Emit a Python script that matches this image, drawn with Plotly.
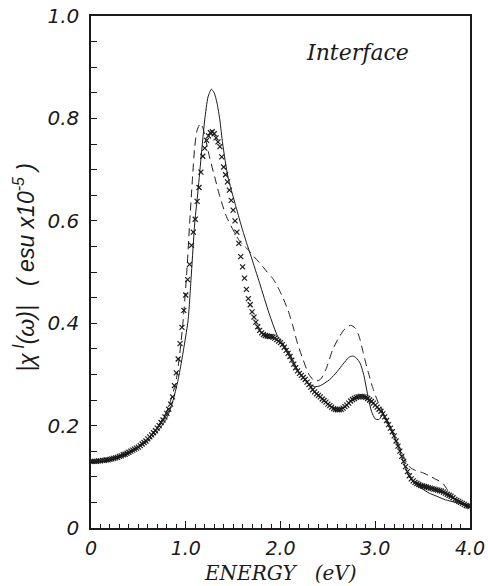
import numpy as np
import plotly.graph_objects as go

# ---- data ----
# crosses (x markers), sampled every 0.02 eV
cross_x = [round(0.02 * i, 2) for i in range(201)]
cross_y = [
    0.130, 0.130, 0.130, 0.130, 0.131, 0.131, 0.132, 0.132, 0.133, 0.133,  # 0.00-0.18
    0.134, 0.135, 0.136, 0.137, 0.138, 0.140, 0.141, 0.143, 0.144, 0.146,  # 0.20-0.38
    0.148, 0.150, 0.152, 0.154, 0.156, 0.158, 0.161, 0.164, 0.167, 0.170,  # 0.40-0.58
    0.174, 0.178, 0.182, 0.186, 0.190, 0.195, 0.200, 0.206, 0.211, 0.217,  # 0.60-0.78
    0.224, 0.232, 0.242, 0.256, 0.278, 0.303, 0.330, 0.360, 0.392, 0.425,  # 0.80-0.98
    0.455, 0.485, 0.515, 0.552, 0.578, 0.603, 0.638, 0.665, 0.695, 0.726,  # 1.00-1.18
    0.742, 0.757, 0.766, 0.772, 0.774, 0.770, 0.762, 0.754, 0.745, 0.725,  # 1.20-1.38
    0.705, 0.690, 0.676, 0.660, 0.640, 0.621, 0.600, 0.578, 0.556, 0.530,  # 1.40-1.58
    0.510, 0.488, 0.466, 0.448, 0.436, 0.422, 0.412, 0.402, 0.393, 0.386,  # 1.60-1.78
    0.381, 0.378, 0.376, 0.375, 0.374, 0.374, 0.373, 0.371, 0.368, 0.365,  # 1.80-1.98
    0.362, 0.358, 0.353, 0.347, 0.341, 0.335, 0.328, 0.320, 0.313, 0.307,  # 2.00-2.18
    0.302, 0.298, 0.294, 0.290, 0.285, 0.280, 0.275, 0.270, 0.266, 0.262,  # 2.20-2.38
    0.259, 0.256, 0.252, 0.249, 0.246, 0.242, 0.239, 0.236, 0.233, 0.232,  # 2.40-2.58
    0.231, 0.231, 0.232, 0.234, 0.237, 0.240, 0.244, 0.248, 0.251, 0.253,  # 2.60-2.78
    0.255, 0.256, 0.257, 0.257, 0.256, 0.255, 0.253, 0.250, 0.247, 0.244,  # 2.80-2.98
    0.240, 0.236, 0.232, 0.228, 0.223, 0.217, 0.210, 0.202, 0.195, 0.188,  # 3.00-3.18
    0.180, 0.170, 0.160, 0.150, 0.140, 0.130, 0.120, 0.110, 0.102, 0.096,  # 3.20-3.38
    0.092, 0.089, 0.087, 0.085, 0.083, 0.082, 0.081, 0.080, 0.079, 0.078,  # 3.40-3.58
    0.077, 0.076, 0.075, 0.074, 0.073, 0.072, 0.070, 0.068, 0.066, 0.064,  # 3.60-3.78
    0.062, 0.059, 0.056, 0.054, 0.052, 0.050, 0.048, 0.046, 0.044, 0.043,  # 3.80-3.98
    0.042,                                                                 # 4.00
]

# solid curve
solid_x = [0.0, 0.2, 0.4, 0.6, 0.7, 0.8, 0.86, 0.92, 0.96, 1.0, 1.025, 1.06, 1.095,
           1.13, 1.165, 1.2, 1.235, 1.27, 1.3, 1.33, 1.36, 1.39, 1.445, 1.52, 1.59,
           1.64, 1.69, 1.78, 1.88, 1.97, 2.02, 2.09, 2.18, 2.28, 2.36, 2.42, 2.52,
           2.6, 2.66, 2.72, 2.76, 2.8, 2.84, 2.88, 2.92, 2.96, 3.0, 3.04, 3.08,
           3.12, 3.18, 3.24, 3.3, 3.36, 3.42, 3.5, 3.57, 3.65, 3.74, 3.85, 3.97, 4.0]
solid_y = [0.128, 0.132, 0.145, 0.170, 0.188, 0.215, 0.245, 0.290, 0.330, 0.375, 0.406,
           0.498, 0.596, 0.660, 0.730, 0.797, 0.842, 0.857, 0.850, 0.830, 0.797, 0.750,
           0.686, 0.634, 0.588, 0.558, 0.530, 0.478, 0.419, 0.374, 0.361, 0.343, 0.309,
           0.285, 0.276, 0.278, 0.290, 0.306, 0.320, 0.333, 0.336, 0.332, 0.322, 0.298,
           0.260, 0.228, 0.213, 0.212, 0.221, 0.210, 0.188, 0.160, 0.128, 0.100, 0.086,
           0.076, 0.068, 0.062, 0.055, 0.050, 0.043, 0.042]

# dashed curve
dash_x = [0.0, 0.2, 0.4, 0.6, 0.7, 0.8, 0.86, 0.9, 0.93, 0.97, 1.01, 1.04, 1.07, 1.095,
          1.12, 1.155, 1.18, 1.2, 1.25, 1.305, 1.36, 1.43, 1.5, 1.57, 1.65, 1.72, 1.78,
          1.85, 1.92, 1.97, 2.02, 2.08, 2.13, 2.18, 2.24, 2.3, 2.36, 2.42, 2.48, 2.55,
          2.61, 2.67, 2.74, 2.79, 2.83, 2.87, 2.9, 2.94, 2.97, 3.02, 3.06, 3.1, 3.16,
          3.22, 3.28, 3.33, 3.37, 3.43, 3.5, 3.57, 3.64, 3.71, 3.76, 3.81, 3.87, 3.95, 4.0]
dash_y = [0.130, 0.134, 0.148, 0.175, 0.197, 0.228, 0.260, 0.290, 0.330, 0.400, 0.497,
          0.592, 0.680, 0.745, 0.777, 0.790, 0.782, 0.768, 0.725, 0.686, 0.647, 0.608,
          0.582, 0.560, 0.545, 0.530, 0.518, 0.502, 0.487, 0.471, 0.452, 0.425, 0.395,
          0.360, 0.328, 0.300, 0.287, 0.290, 0.310, 0.348, 0.370, 0.387, 0.396, 0.390,
          0.374, 0.345, 0.322, 0.295, 0.276, 0.250, 0.235, 0.218, 0.196, 0.172, 0.148,
          0.128, 0.118, 0.112, 0.108, 0.102, 0.095, 0.088, 0.075, 0.062, 0.053, 0.046,
          0.042]

x_tickvals = [0, 1, 2, 3, 4]
x_ticktext = ["0", "1.0", "2.0", "3.0", "4.0"]
y_tickvals = [0, 0.2, 0.4, 0.6, 0.8, 1.0]
y_ticktext = ["0", "0.2", "0.4", "0.6", "0.8", "1.0"]

INK = "#1a1a1a"

fig = go.Figure()
fig.add_trace(go.Scatter(x=solid_x, y=solid_y, mode="lines",
                         line=dict(color=INK, width=1, shape="spline", smoothing=0.6),
                         showlegend=False, hoverinfo="skip"))
fig.add_trace(go.Scatter(x=dash_x, y=dash_y, mode="lines",
                         line=dict(color=INK, width=1, dash="8px,5px", shape="spline", smoothing=0.6),
                         showlegend=False, hoverinfo="skip"))
fig.add_trace(go.Scatter(x=cross_x, y=cross_y, mode="markers",
                         marker=dict(symbol="x-thin", size=5, line=dict(width=1.2, color=INK)),
                         showlegend=False, hoverinfo="skip"))

tickfont_sans = dict(family="DejaVu Sans", size=20, color=INK, style="italic")
xtickfont = dict(family="DejaVu Sans", size=19, color=INK, style="italic")

fig.update_layout(
    width=488, height=586,
    margin=dict(l=91, r=18, t=16, b=58),
    paper_bgcolor="white", plot_bgcolor="white",
    xaxis=dict(range=[0, 4], tickvals=x_tickvals, ticktext=x_ticktext,
               ticks="inside", ticklen=7, tickwidth=1, tickcolor=INK,
               minor=dict(dtick=0.1, ticks="inside", ticklen=4, tickwidth=1, tickcolor=INK),
               showgrid=False, zeroline=False, showline=True, linecolor=INK, linewidth=1.5,
               mirror=True, tickfont=xtickfont, ticklabelstandoff=2, automargin=False),
    yaxis=dict(range=[0, 1.0], tickvals=y_tickvals, ticktext=y_ticktext,
               ticks="inside", ticklen=6, tickwidth=1, tickcolor=INK,
               minor=dict(dtick=0.05, ticks="inside", ticklen=6, tickwidth=1, tickcolor=INK),
               showgrid=False, zeroline=False, showline=True, linecolor=INK, linewidth=1.5,
               mirror=True, tickfont=tickfont_sans, ticklabelstandoff=6, automargin=False),
    annotations=[
        dict(text="Interface", x=2.81, y=0.928, xref="x", yref="y", showarrow=False,
             font=dict(family="DejaVu Serif", size=22, color=INK, style="italic")),
        dict(text="ENERGY   (eV)", x=0.5, y=-0.087, xref="paper", yref="paper",
             showarrow=False, xanchor="center", yanchor="middle",
             font=dict(family="DejaVu Serif", size=20, color=INK, style="italic")),
        dict(text="|χ<sup> I</sup>(ω)|   ( esu x10<sup>-5</sup> )", x=-0.177, y=0.51,
             xref="paper", yref="paper", showarrow=False, textangle=-90,
             xanchor="center", yanchor="middle",
             font=dict(family="Liberation Sans", size=23, color=INK, style="italic")),
    ],
)

fig.write_html("out.html", config={"displayModeBar": False},
               post_script="document.body.style.margin='0';document.body.style.overflow='hidden';")
